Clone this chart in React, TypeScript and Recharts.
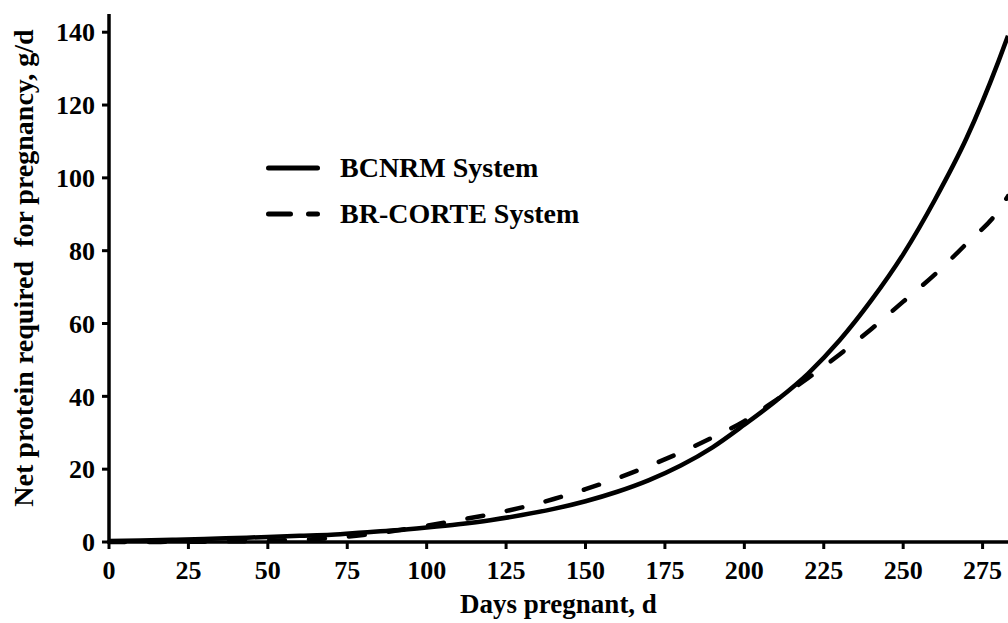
import React from 'react';
import {
  LineChart,
  Line,
  XAxis,
  YAxis,
  Legend
} from 'recharts';

const days = [0, 10, 20, 30, 40, 50, 60, 70, 80, 90, 100, 110, 120, 130, 140, 150, 160, 170, 180, 190, 200, 210, 220, 230, 240, 250, 260, 270, 280, 283];
const bcnrm = [0.3, 0.4, 0.6, 0.8, 1.1, 1.4, 1.7, 2.0, 2.6, 3.2, 4.0, 4.9, 6.0, 7.4, 9.1, 11.2, 13.8, 17.0, 21.0, 26.0, 32.2, 38.8, 46.2, 55.4, 66.4, 79, 94, 111, 132, 139];
const brCorte = [0, 0, 0.05, 0.1, 0.2, 0.35, 0.6, 1.1, 1.9, 3.1, 4.5, 6.0, 7.6, 9.5, 11.8, 14.5, 17.5, 20.9, 24.6, 28.7, 33.2, 39, 45, 51.5, 58.5, 66, 73.5, 82, 91, 95];

const xTicks = [0, 25, 50, 75, 100, 125, 150, 175, 200, 225, 250, 275];
const yTicks = [0, 20, 40, 60, 80, 100, 120, 140];

const data = days.map((d, i) => ({ day: d, bcnrm: bcnrm[i], brCorte: brCorte[i] }));

const FONT = "'Liberation Serif', 'Times New Roman', serif";

// legend icons are drawn by hand so the dash pattern looks like the original key
const legendDash: Record<string, string | undefined> = {
  bcnrm: undefined,
  brCorte: '22 18'
};

const renderLegend = (props: any) => {
  const { payload = [] } = props;
  return (
    <div style={{ fontFamily: FONT, fontWeight: 'bold', fontSize: 28, color: '#000' }}>
      {payload.map((entry: any) => (
        <div
          key={entry.dataKey}
          style={{ display: 'flex', alignItems: 'center', height: 46, whiteSpace: 'nowrap' }}
        >
          <svg width={58} height={10} style={{ display: 'block' }}>
            <line
              x1={4.5}
              y1={5}
              x2={53.5}
              y2={5}
              stroke="#000"
              strokeWidth={5}
              strokeLinecap="round"
              strokeDasharray={legendDash[entry.dataKey]}
            />
          </svg>
          <span style={{ marginLeft: 18 }}>{entry.value}</span>
        </div>
      ))}
    </div>
  );
};

const YTitle = (props: any) => {
  const { viewBox } = props;
  const cy = viewBox.y + viewBox.height / 2 - 10;
  return (
    <text
      x={33}
      y={cy}
      transform={`rotate(-90, 33, ${cy})`}
      textAnchor="middle"
      fontFamily={FONT}
      fontWeight="bold"
      fontSize={28}
      fill="#000"
      style={{ whiteSpace: 'pre' }}
    >
      Net protein required  for pregnancy, g/d
    </text>
  );
};

const tickStyle = { fontFamily: FONT, fontWeight: 'bold' as const, fontSize: 26, fill: '#000' };

export default function App() {
  return (
    <div style={{ position: 'absolute', left: 0, top: 0, background: '#fff' }}>
      <LineChart
        width={1008}
        height={623}
        data={data}
        margin={{ top: 14, right: 0, left: 0, bottom: 0 }}
      >
        <XAxis
          dataKey="day"
          type="number"
          domain={[0, 283]}
          ticks={xTicks}
          height={81}
          axisLine={{ stroke: '#000', strokeWidth: 3.5 }}
          tickLine={{ stroke: '#000', strokeWidth: 3 }}
          tickSize={7}
          tickMargin={12}
          tick={tickStyle}
          interval={0}
          label={{
            value: 'Days pregnant, d',
            position: 'insideBottom',
            offset: 10,
            style: { fontFamily: FONT, fontWeight: 'bold', fontSize: 27, fill: '#000' }
          }}
        />
        <YAxis
          type="number"
          domain={[0, 145]}
          ticks={yTicks}
          width={109}
          axisLine={{ stroke: '#000', strokeWidth: 3.5 }}
          tickLine={{ stroke: '#000', strokeWidth: 3 }}
          tickSize={7}
          tickMargin={7}
          tick={tickStyle}
          interval={0}
          label={<YTitle />}
        />
        <Legend
          layout="horizontal"
          verticalAlign="middle"
          align="center"
          content={renderLegend}
          wrapperStyle={{ left: 264, top: 145, width: 400 }}
        />
        <Line
          type="monotone"
          dataKey="bcnrm"
          name="BCNRM System"
          stroke="#000"
          strokeWidth={4.5}
          dot={false}
          activeDot={false}
          isAnimationActive={false}
        />
        <Line
          type="monotone"
          dataKey="brCorte"
          name="BR-CORTE System"
          stroke="#000"
          strokeWidth={4.5}
          strokeDasharray="16 24"
          strokeLinecap="round"
          dot={false}
          activeDot={false}
          isAnimationActive={false}
        />
      </LineChart>
    </div>
  );
}
